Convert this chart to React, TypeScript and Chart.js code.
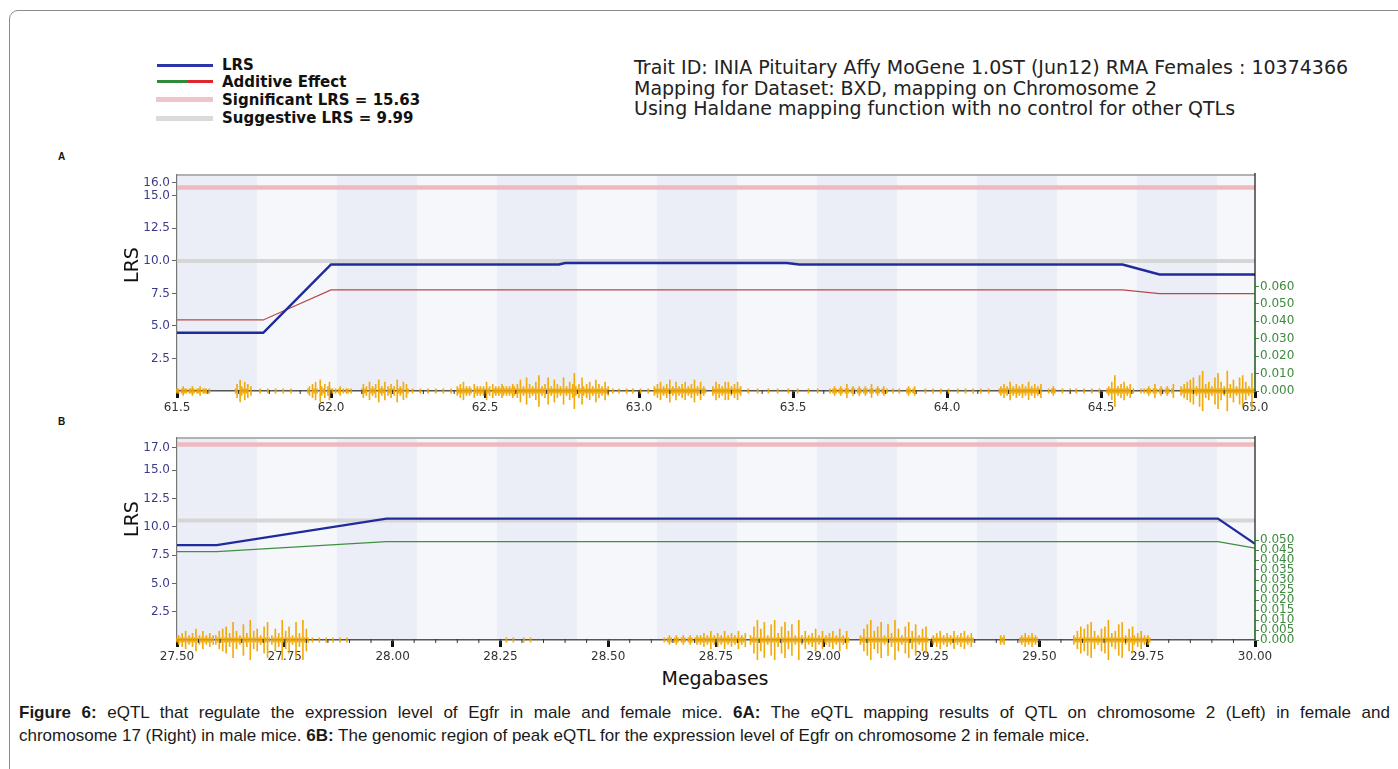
import { useEffect, useRef } from "react";
import { Chart, registerables } from "chart.js";

Chart.register(...registerables);

const FONT = '"DejaVu Sans", Verdana, sans-serif';
const CAPTION_FONT = '"Liberation Sans", Arial, sans-serif';
Chart.defaults.font.family = FONT;

// ---------- Panel A: chromosome 2, 61.5–65.0 Mb ----------
const mbTicksA = [61.5, 62.0, 62.5, 63.0, 63.5, 64.0, 64.5, 65.0];
const lrsTicksA = [2.5, 5.0, 7.5, 10.0, 12.5, 15.0, 16.0];
const effectTicksA = [0, 0.01, 0.02, 0.03, 0.04, 0.05, 0.06];
const lrsPosA = [61.5, 61.78, 62.0, 62.74, 62.76, 63.48, 63.52, 64.57, 64.69, 65.0];
const lrsValA = [4.47, 4.47, 9.73, 9.73, 9.83, 9.83, 9.72, 9.72, 8.95, 8.95];
const effectPosA = [61.5, 61.78, 62.0, 64.57, 64.69, 65.0];
const effectValA = [0.0408, 0.0408, 0.058, 0.058, 0.0559, 0.0559];
const significantA = 15.63;
const suggestiveA = 9.99;
// SNP density ticks: cluster start (Mb) + one count digit per step
const snpStepA = 0.005;
const snpClustersA: [number, string][] = [
  [61.5, "1101211011210112011101"],
  [61.69, "13052141302"],
  [61.76, "0010000100001000010000100"],
  [61.925, "1203141052130241"],
  [62.005, "1010120101101"],
  [62.1, "1312041213051214021312051214031"],
  [62.26, "0100001000010000100001000010"],
  [62.41, "2131412121031212121412031212132121213"],
  [62.595, "213151216131214171213161215131216121413"],
  [62.79, "82131621314121513121412"],
  [62.91, "0100010000100010000100001000"],
  [63.05, "2131412131512141213141213151214121"],
  [63.24, "2141312141412131412"],
  [63.34, "000100000100000010000010000001000001000000100000100000"],
  [63.62, "101210121013101210121012101310121012"],
  [63.8, "010001000100001210120000"],
  [63.92, "001000010000100001000001000010000100001000010000"],
  [64.17, "1213121412131213121412131213"],
  [64.33, "101210"],
  [64.37, "0100001000100001000010000100"],
  [64.52, "1214171213141213"],
  [64.6, "0100001"],
  [64.64, "10121013101210121013"],
  [64.76, "213141516121719131412161814121913151216171412181"],
];

// ---------- Panel B: chromosome 2, 27.5–30.0 Mb ----------
const mbTicksB = [27.5, 27.75, 28.0, 28.25, 28.5, 28.75, 29.0, 29.25, 29.5, 29.75, 30.0];
const lrsTicksB = [2.5, 5.0, 7.5, 10.0, 12.5, 15.0, 17.0];
const effectTicksB = [0, 0.005, 0.01, 0.015, 0.02, 0.025, 0.03, 0.035, 0.04, 0.045, 0.05];
const lrsPosB = [27.5, 27.592, 27.986, 29.914, 30.0];
const lrsValB = [8.39, 8.39, 10.72, 10.72, 8.5];
const effectPosB = [27.5, 27.592, 27.986, 29.914, 30.0];
const effectValB = [0.0442, 0.0442, 0.0492, 0.0492, 0.0459];
const significantB = 17.27;
const suggestiveB = 10.57;
const snpStepB = 0.004;
const snpClustersB: [number, string][] = [
  [27.5, "1213141213151214121312"],
  [27.59, "21415161318141217131914151216181"],
  [27.72, "2151319141612181319151"],
  [27.81, "0100010001000100010001"],
  [28.26, "01000100000100010000"],
  [28.63, "10121012101210121012"],
  [28.71, "1213121412131214121312141213"],
  [28.83, "21619151812171913161814171219"],
  [28.945, "12141213151214121314121512141"],
  [29.085, "2151719141618121713191512161814171215161"],
  [29.25, "1213141213121412131412131"],
  [29.41, "212"],
  [29.455, "12131213121"],
  [29.58, "21416151718141215161913141718121516"],
  [29.72, "2131412121"],
];

type PanelSpec = {
  mbMin: number;
  mbMax: number;
  mbTicks: number[];
  mbDecimals: number;
  minorStep: number;
  lrsMax: number;
  lrsTicks: number[];
  effectMax: number;
  effectTicks: number[];
  effectAxisTop: number;
  lrsPos: number[];
  lrsVal: number[];
  lrsWidth: number;
  effectPos: number[];
  effectVal: number[];
  effectColor: string;
  significant: number;
  suggestive: number;
  snpClusters: [number, string][];
  snpStep: number;
  snpAxisMax: number;
  width: number;
  height: number;
  padTop: number;
  leftW: number;
  rightW: number;
  bottomH: number;
};

const xy = (xs: number[], ys: number[]) => xs.map((x, i) => ({ x, y: ys[i] }));

const expandSnps = (clusters: [number, string][], step: number) =>
  clusters.flatMap(([start, digits]) =>
    [...digits]
      .map((c, i) => ({ x: start + i * step, y: [-Number(c), Number(c)] }))
      .filter((p) => p.y[1] > 0)
  );

const decorPlugin = {
  id: "panelDecor",
  beforeDraw(chart: any) {
    const { ctx, chartArea: a } = chart;
    const band = 80;
    ctx.save();
    ctx.fillStyle = "#f6f7fb";
    ctx.fillRect(a.left, a.top, a.right - a.left, a.bottom - a.top);
    ctx.fillStyle = "#eceef7";
    for (let i = 0, x = a.left; x < a.right; i++, x += band) {
      if (i % 2 === 0) ctx.fillRect(x, a.top, Math.min(band, a.right - x), a.bottom - a.top);
    }
    ctx.restore();
  },
  afterDraw(chart: any, _args: any, opts: any) {
    const { ctx, chartArea: a, scales } = chart;
    ctx.save();
    // top frame
    ctx.strokeStyle = "#9a9a9a";
    ctx.lineWidth = 1.5;
    ctx.beginPath();
    ctx.moveTo(a.left, a.top);
    ctx.lineTo(a.right, a.top);
    ctx.stroke();
    // right frame
    ctx.strokeStyle = "#111";
    ctx.lineWidth = 1.2;
    ctx.beginPath();
    ctx.moveTo(a.right, a.top - 2);
    ctx.lineTo(a.right, a.bottom);
    ctx.stroke();
    // effect axis line
    ctx.strokeStyle = "#3f8a3f";
    ctx.lineWidth = 1.2;
    ctx.beginPath();
    ctx.moveTo(a.right, scales.y2.getPixelForValue(0));
    ctx.lineTo(a.right, scales.y2.getPixelForValue(opts.effectAxisTop));
    ctx.stroke();
    // minor Mb ticks
    const x = scales.x;
    ctx.strokeStyle = "#333";
    ctx.lineWidth = 1;
    const n = Math.round((opts.mbMax - opts.mbMin) / opts.minorStep);
    for (let i = 1; i < n; i++) {
      const px = x.getPixelForValue(opts.mbMin + i * opts.minorStep);
      ctx.beginPath();
      ctx.moveTo(px, a.bottom - 1);
      ctx.lineTo(px, a.bottom + 3);
      ctx.stroke();
    }
    ctx.restore();
  },
};

function buildConfig(p: PanelSpec): any {
  const line = (data: any, color: string, width: number, axis: string, order: number) => ({
    type: "line",
    data,
    borderColor: color,
    borderWidth: width,
    pointRadius: 0,
    tension: 0,
    fill: false,
    yAxisID: axis,
    order,
  });
  return {
    type: "line",
    data: {
      datasets: [
        line(xy(p.lrsPos, p.lrsVal), "#1f2b9c", p.lrsWidth, "y", 0),
        line(xy(p.effectPos, p.effectVal), p.effectColor, 1.2, "y2", 1),
        {
          type: "bar",
          data: expandSnps(p.snpClusters, p.snpStep),
          backgroundColor: "rgba(240,166,0,0.95)",
          barThickness: 1,
          yAxisID: "ys",
          order: 2,
          clip: false,
          grouped: false,
        },
        line(xy([p.mbMin, p.mbMax], [p.significant, p.significant]), "rgba(238,178,184,0.9)", 4.5, "y", 3),
        line(xy([p.mbMin, p.mbMax], [p.suggestive, p.suggestive]), "rgba(212,212,212,0.95)", 4, "y", 4),
      ],
    },
    options: {
      responsive: false,
      animation: false,
      events: [],
      layout: { padding: { top: p.padTop, left: 0, right: 0, bottom: 0 } },
      plugins: {
        legend: { display: false },
        tooltip: { enabled: false },
        panelDecor: {
          effectAxisTop: p.effectAxisTop,
          mbMin: p.mbMin,
          mbMax: p.mbMax,
          minorStep: p.minorStep,
        },
      },
      scales: {
        x: {
          type: "linear",
          offset: false,
          min: p.mbMin,
          max: p.mbMax,
          afterBuildTicks: (s: any) => {
            s.ticks = p.mbTicks.map((value) => ({ value }));
          },
          afterFit: (s: any) => {
            s.height = p.bottomH;
          },
          ticks: {
            callback: (v: any) => Number(v).toFixed(p.mbDecimals),
            color: "#333",
            font: { size: 12 },
            maxRotation: 0,
            autoSkip: false,
            padding: 3,
          },
          grid: { offset: false, drawOnChartArea: false, tickLength: 7, tickWidth: 3, tickColor: "#111" },
          border: { color: "#555", width: 1.5 },
        },
        y: {
          position: "left",
          min: 0,
          max: p.lrsMax,
          afterBuildTicks: (s: any) => {
            s.ticks = p.lrsTicks.map((value) => ({ value }));
          },
          afterFit: (s: any) => {
            s.width = p.leftW;
          },
          ticks: {
            callback: (v: any) => Number(v).toFixed(1),
            color: "#3b3b8c",
            font: { size: 12 },
            padding: 2,
            autoSkip: false,
          },
          grid: { drawOnChartArea: false, tickLength: 5, tickColor: "#666" },
          border: { color: "#777", width: 1.2 },
        },
        y2: {
          position: "right",
          min: 0,
          max: p.effectMax,
          afterBuildTicks: (s: any) => {
            s.ticks = p.effectTicks.map((value) => ({ value }));
          },
          afterFit: (s: any) => {
            s.width = p.rightW;
          },
          ticks: {
            callback: (v: any) => Number(v).toFixed(3),
            color: "#3f8a3f",
            font: { size: 12 },
            padding: 1,
            autoSkip: false,
          },
          grid: { drawOnChartArea: false, tickLength: 4, tickColor: "#3f8a3f" },
          border: { display: false },
        },
        ys: { display: false, min: 0, max: p.snpAxisMax },
      },
    },
    plugins: [decorPlugin],
  };
}

const panelA: PanelSpec = {
  mbMin: 61.5,
  mbMax: 65.0,
  mbTicks: mbTicksA,
  mbDecimals: 1,
  minorStep: 0.1,
  lrsMax: 16.6,
  lrsTicks: lrsTicksA,
  effectMax: 0.124,
  effectTicks: effectTicksA,
  effectAxisTop: 0.063,
  lrsPos: lrsPosA,
  lrsVal: lrsValA,
  lrsWidth: 2.5,
  effectPos: effectPosA,
  effectVal: effectValA,
  effectColor: "#b9474a",
  significant: significantA,
  suggestive: suggestiveA,
  snpClusters: snpClustersA,
  snpStep: snpStepA,
  snpAxisMax: 98,
  width: 1240,
  height: 270,
  padTop: 15,
  leftW: 77,
  rightW: 85,
  bottomH: 39,
};

const panelB: PanelSpec = {
  mbMin: 27.5,
  mbMax: 30.0,
  mbTicks: mbTicksB,
  mbDecimals: 2,
  minorStep: 0.05,
  lrsMax: 17.85,
  lrsTicks: lrsTicksB,
  effectMax: 0.101,
  effectTicks: effectTicksB,
  effectAxisTop: 0.0525,
  lrsPos: lrsPosB,
  lrsVal: lrsValB,
  lrsWidth: 2.2,
  effectPos: effectPosB,
  effectVal: effectValB,
  effectColor: "#3f8f3f",
  significant: significantB,
  suggestive: suggestiveB,
  snpClusters: snpClustersB,
  snpStep: snpStepB,
  snpAxisMax: 92,
  width: 1240,
  height: 240,
  padTop: 13,
  leftW: 77,
  rightW: 85,
  bottomH: 25,
};

function Panel({ spec, left, top }: { spec: PanelSpec; left: number; top: number }) {
  const ref = useRef<HTMLCanvasElement>(null);
  useEffect(() => {
    const chart = new Chart(ref.current as HTMLCanvasElement, buildConfig(spec));
    return () => chart.destroy();
  }, [spec]);
  return (
    <canvas
      ref={ref}
      width={spec.width}
      height={spec.height}
      style={{ position: "absolute", left, top, width: spec.width, height: spec.height, display: "block" }}
    />
  );
}

function Text({
  x,
  cy,
  size,
  children,
  bold,
  color = "#222",
  family = FONT,
}: {
  x: number;
  cy: number;
  size: number;
  children: any;
  bold?: boolean;
  color?: string;
  family?: string;
}) {
  return (
    <div
      style={{
        position: "absolute",
        left: x,
        top: cy - size * 0.58,
        fontSize: size,
        lineHeight: `${size * 1.2}px`,
        fontWeight: bold ? "bold" : "normal",
        fontFamily: family,
        color,
        whiteSpace: "nowrap",
      }}
    >
      {children}
    </div>
  );
}

function Swatch({ x, cy, w, h, color }: { x: number; cy: number; w: number; h: number; color: string }) {
  return <div style={{ position: "absolute", left: x, top: cy - h / 2, width: w, height: h, background: color }} />;
}

function AxisTitle({ cx, cy, text, rotate }: { cx: number; cy: number; text: string; rotate?: boolean }) {
  return (
    <div
      style={{
        position: "absolute",
        left: cx,
        top: cy,
        transform: `translate(-50%, -50%)${rotate ? " rotate(-90deg)" : ""}`,
        fontSize: 19,
        lineHeight: "22px",
        fontFamily: FONT,
        color: "#111",
        whiteSpace: "nowrap",
      }}
    >
      {text}
    </div>
  );
}

export default function App() {
  return (
    <div
      style={{
        position: "absolute",
        left: 0,
        top: 0,
        width: 1398,
        height: 769,
        overflow: "hidden",
        background: "#fff",
      }}
    >
      <div
        style={{
          position: "absolute",
          left: 9,
          top: 10,
          width: 1500,
          height: 900,
          border: "1.5px solid #8c8c8c",
          borderRadius: 9,
        }}
      />

      {/* legend */}
      <Swatch x={157} cy={65} w={56} h={3} color="#2b35a6" />
      <Swatch x={157} cy={81.5} w={31} h={3} color="#2e8b3a" />
      <Swatch x={188} cy={81.5} w={25} h={3} color="#e0262b" />
      <Swatch x={156} cy={99} w={57} h={5} color="#efc5c9" />
      <Swatch x={156} cy={118} w={57} h={5} color="#dadada" />
      <Text x={222} cy={65} size={15} bold color="#111">LRS</Text>
      <Text x={222} cy={81.5} size={15} bold color="#111">Additive Effect</Text>
      <Text x={222} cy={100} size={15} bold color="#111">Significant LRS = 15.63</Text>
      <Text x={222} cy={117.5} size={15} bold color="#111">Suggestive LRS = 9.99</Text>

      {/* trait information */}
      <Text x={634} cy={67} size={19}>Trait ID: INIA Pituitary Affy MoGene 1.0ST (Jun12) RMA Females : 10374366</Text>
      <Text x={634} cy={88} size={19}>Mapping for Dataset: BXD, mapping on Chromosome 2</Text>
      <Text x={634} cy={108} size={19}>Using Haldane mapping function with no control for other QTLs</Text>

      <Text x={58} cy={157} size={10} bold color="#111" family={CAPTION_FONT}>A</Text>
      <Text x={58} cy={422} size={10} bold color="#111" family={CAPTION_FONT}>B</Text>

      <Panel spec={panelA} left={100} top={160} />
      <Panel spec={panelB} left={100} top={425} />

      <AxisTitle cx={131} cy={265} text="LRS" rotate />
      <AxisTitle cx={131} cy={519} text="LRS" rotate />
      <AxisTitle cx={715} cy={678} text="Megabases" />

      {/* caption */}
      <div
        style={{
          position: "absolute",
          left: 19,
          top: 713 - 10,
          width: 1371,
          fontFamily: CAPTION_FONT,
          fontSize: 17,
          lineHeight: "20px",
          color: "#1a1a1a",
          textAlign: "justify",
          textAlignLast: "justify",
          whiteSpace: "nowrap",
        }}
      >
        <b>Figure 6:</b> eQTL that regulate the expression level of Egfr in male and female mice. <b>6A:</b> The eQTL
        mapping results of QTL on chromosome 2 (Left) in female and
      </div>
      <div
        style={{
          position: "absolute",
          left: 19,
          top: 736 - 10,
          fontFamily: CAPTION_FONT,
          fontSize: 17,
          lineHeight: "20px",
          color: "#1a1a1a",
          whiteSpace: "nowrap",
        }}
      >
        chromosome 17 (Right) in male mice. <b>6B:</b> The genomic region of peak eQTL for the expression level of Egfr on
        chromosome 2 in female mice.
      </div>
    </div>
  );
}
